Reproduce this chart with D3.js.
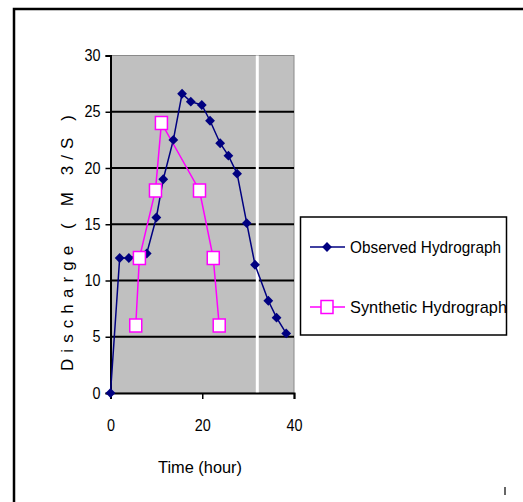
<!DOCTYPE html>
<html><head><meta charset="utf-8">
<script src="https://cdn.jsdelivr.net/npm/d3@7"></script>
<style>
html,body{margin:0;padding:0;background:#fff;}
text{font-family:"Liberation Sans Narrow","Liberation Sans",Arial,sans-serif;fill:#000;}
</style></head>
<body>
<svg id="c" width="523" height="502"></svg>
<script>
const obsTime = [0, 2, 4, 7.9, 10, 11.5, 13.7, 15.6, 17.5, 19.9, 21.7, 23.9, 25.7, 27.6, 29.7, 31.5, 34.4, 36.2, 38.3];
const obsQ    = [0, 12, 12, 12.4, 15.6, 19, 22.5, 26.6, 25.9, 25.6, 24.2, 22.2, 21.1, 19.5, 15.1, 11.4, 8.2, 6.7, 5.3];
const synTime = [5.5, 6.3, 9.8, 11.1, 19.4, 22.4, 23.7];
const synQ    = [6, 12, 18, 24, 18, 12, 6];
const xTicks = [0, 20, 40];
const yTicks = [0, 5, 10, 15, 20, 25, 30];
const whiteGrid = [32];
const seriesNames = ["Observed Hydrograph", "Synthetic Hydrograph"];

const svg = d3.select("#c");
svg.append("path").attr("d","M14,502 L14,9 L523,9").attr("fill","none").attr("stroke","#000").attr("stroke-width",2.5);
svg.append("line").attr("x1",505).attr("x2",505).attr("y1",487).attr("y2",495).attr("stroke","#333").attr("stroke-width",1.5);

const L=110.5, R=294, T=55.5, B=393;
const x = d3.scaleLinear().domain([0,40]).range([L,R]);
const y = d3.scaleLinear().domain([0,30]).range([B,T]);

svg.append("rect").attr("x",L).attr("y",T).attr("width",R-L).attr("height",B-T).attr("fill","#c0c0c0").attr("stroke","#8a8a8a").attr("stroke-width",1);

svg.append("g").selectAll("line").data(yTicks.filter(v=>v>0&&v<30)).join("line")
  .attr("x1",L).attr("x2",R).attr("y1",d=>y(d)).attr("y2",d=>y(d)).attr("stroke","#000").attr("stroke-width",2);
svg.append("g").selectAll("line").data(whiteGrid).join("line")
  .attr("x1",d=>x(d)).attr("x2",d=>x(d)).attr("y1",T).attr("y2",B).attr("stroke","#fff").attr("stroke-width",3);

const yAxis = svg.append("g").attr("transform",`translate(${L},0)`)
  .call(d3.axisLeft(y).tickValues(yTicks).tickSize(5).tickPadding(5));
const xAxis = svg.append("g").attr("transform",`translate(0,${B})`)
  .call(d3.axisBottom(x).tickValues(xTicks).tickSize(6).tickPadding(21));
[yAxis,xAxis].forEach(a=>{
  a.select(".domain").attr("stroke","#000").attr("stroke-width",2);
  a.selectAll(".tick line").attr("stroke","#000").attr("stroke-width",1.5);
  a.selectAll("text").attr("font-size",16).attr("font-family","'Liberation Sans Narrow','Liberation Sans',Arial,sans-serif").attr("fill","#000")
    .attr("textLength",d=>String(d).length*8).attr("lengthAdjust","spacingAndGlyphs");
});

const obs = obsTime.map((t,i)=>[t,obsQ[i]]);
const syn = synTime.map((t,i)=>[t,synQ[i]]);
const line = d3.line().x(d=>x(d[0])).y(d=>y(d[1]));
svg.append("path").datum(obs).attr("d",line).attr("fill","none").attr("stroke","#000080").attr("stroke-width",1.5);
svg.append("path").datum(syn).attr("d",line).attr("fill","none").attr("stroke","#ff00ff").attr("stroke-width",1.5);

svg.append("g").selectAll("path").data(obs).join("path")
  .attr("d", d3.symbol().type(d3.symbolSquare).size(48))
  .attr("transform",d=>`translate(${x(d[0])},${y(d[1])}) rotate(45)`).attr("fill","#000080");
svg.append("g").selectAll("rect").data(syn).join("rect")
  .attr("x",d=>x(d[0])-6).attr("y",d=>y(d[1])-6.5).attr("width",12).attr("height",13)
  .attr("fill","#fff").attr("stroke","#ff00ff").attr("stroke-width",1.5);

svg.append("text").attr("transform","translate(73,243) rotate(-90)").attr("text-anchor","middle")
  .attr("font-size",17).attr("textLength",256).text("Discharge ( M 3/S )");
svg.append("text").attr("x",200).attr("y",473).attr("text-anchor","middle").attr("font-size",17)
  .attr("textLength",84).attr("lengthAdjust","spacingAndGlyphs").text("Time (hour)");

const lg = svg.append("g");
lg.append("rect").attr("x",300.5).attr("y",217).attr("width",206).attr("height",118).attr("fill","#fff").attr("stroke","#000").attr("stroke-width",1.5);
const ly = [247, 307];
lg.append("line").attr("x1",310).attr("x2",345).attr("y1",ly[0]).attr("y2",ly[0]).attr("stroke","#000080").attr("stroke-width",1.5);
lg.append("path").attr("d",d3.symbol().type(d3.symbolSquare).size(48)).attr("transform",`translate(327,${ly[0]}) rotate(45)`).attr("fill","#000080");
lg.append("line").attr("x1",310).attr("x2",345).attr("y1",ly[1]).attr("y2",ly[1]).attr("stroke","#ff00ff").attr("stroke-width",1.5);
lg.append("rect").attr("x",321).attr("y",ly[1]-6.5).attr("width",12).attr("height",13).attr("fill","#fff").attr("stroke","#ff00ff").attr("stroke-width",1.5);
lg.selectAll("text.l").data(seriesNames).join("text").attr("class","l")
  .attr("x",350).attr("y",(d,i)=>ly[i]+6).attr("font-size",17).attr("lengthAdjust","spacingAndGlyphs")
  .attr("textLength",(d,i)=>i?157:151).text(d=>d);
</script>
</body></html>
